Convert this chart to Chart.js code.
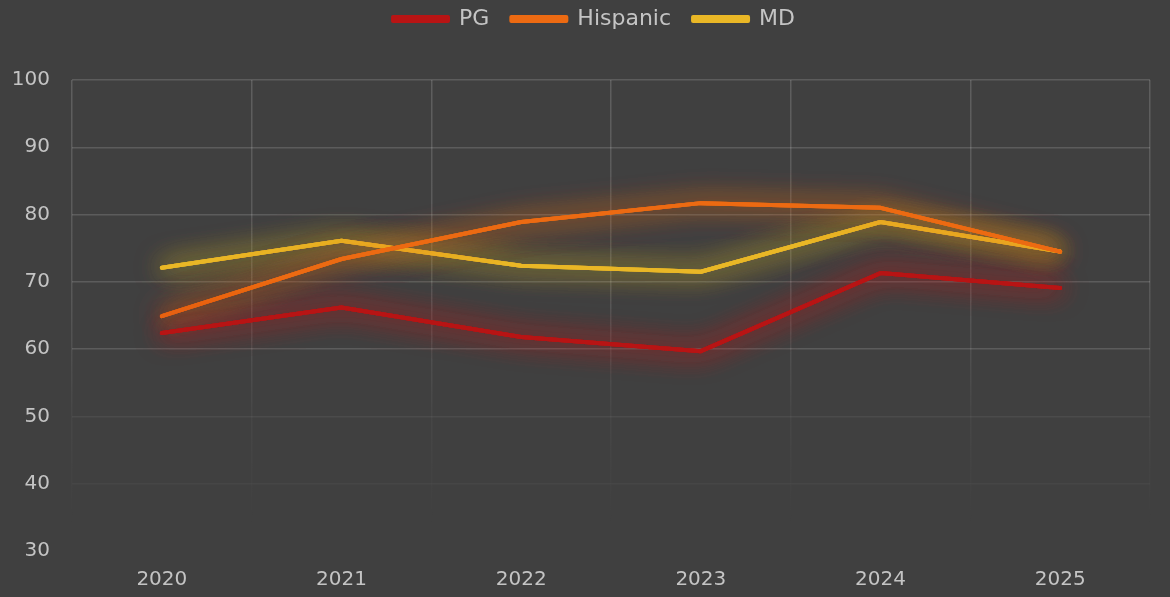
<!DOCTYPE html>
<html>
<head>
<meta charset="utf-8">
<script src="https://cdn.jsdelivr.net/npm/chart.js@4/dist/chart.umd.min.js"></script>
<style>
    html, body { margin: 0; padding: 0; background: #404040; }
    #wrap { width: 1170px; height: 597px; position: relative; }
</style>
</head>
<body>
<div id="wrap"><canvas id="trend"></canvas></div>
<script>
const years = ['2020', '2021', '2022', '2023', '2024', '2025'];
const pgValues = [62.4, 66.2, 61.8, 59.7, 71.3, 69.1];
const hispanicValues = [64.9, 73.4, 78.9, 81.7, 81.0, 74.5];
const mdValues = [72.1, 76.1, 72.4, 71.5, 78.9, 74.5];
const yTicks = [30, 40, 50, 60, 70, 80, 90, 100];

const textColor = '#c4c4c4';
const fontFamily = "'DejaVu Sans', 'Noto Sans', sans-serif";

// soft coloured halo behind each line, a few blurred passes stacked
const glow = {
    id: 'glow',
    beforeDatasetDraw(chart, args) {
        const ds = chart.data.datasets[args.index];
        const ctx = chart.ctx;
        ctx.save();
        ctx.shadowColor = ds.glowColor;
        ctx.shadowBlur = 28;
        ctx.shadowOffsetX = 0;
        ctx.shadowOffsetY = 0;
        args.meta.dataset.draw(ctx, chart.chartArea);
        args.meta.dataset.draw(ctx, chart.chartArea);
    },
    afterDatasetDraw(chart) {
        chart.ctx.restore();
    }
};

// fixed legend band so the plot starts at the right height,
// then nudge the legend row up and a bit right of the plot centre
const legendBand = {
    id: 'legendBand',
    beforeInit(chart) {
        const fit = chart.legend.fit;
        chart.legend.fit = function () {
            fit.call(this);
            this.height = 80;
        };
    },
    afterLayout(chart) {
        chart.legend.top -= 14;
        chart.legend.left += 38;
    }
};

function fadeColor(context) {
    const area = context.chart.chartArea;
    if (!area) return 'rgba(255,255,255,0.14)';
    const g = context.chart.ctx.createLinearGradient(0, area.top, 0, area.bottom);
    g.addColorStop(0, 'rgba(255,255,255,0.16)');
    g.addColorStop(0.45, 'rgba(255,255,255,0.13)');
    g.addColorStop(0.7, 'rgba(255,255,255,0.04)');
    g.addColorStop(0.95, 'rgba(255,255,255,0.0)');
    return g;
}

function hLineColor(context) {
    const v = context.tick ? context.tick.value : 0;
    if (v >= 60) return 'rgba(255,255,255,0.15)';
    if (v === 50) return 'rgba(255,255,255,0.06)';
    if (v === 40) return 'rgba(255,255,255,0.03)';
    return 'rgba(255,255,255,0)';
}

function series(label, data, color, glowColor) {
    return {
        label: label,
        data: data,
        borderColor: color,
        backgroundColor: color,
        glowColor: glowColor,
        borderWidth: 4,
        pointRadius: 0,
        tension: 0,
        borderCapStyle: 'round',
        borderJoinStyle: 'round'
    };
}

new Chart(document.getElementById('trend'), {
    type: 'line',
    data: {
        labels: years,
        datasets: [
            series('PG', pgValues, '#b81414', 'rgba(200,30,30,0.8)'),
            series('Hispanic', hispanicValues, '#ec6a12', 'rgba(236,110,20,0.75)'),
            series('MD', mdValues, '#e9b726', 'rgba(230,190,40,0.65)')
        ]
    },
    options: {
        responsive: true,
        maintainAspectRatio: false,
        animation: false,
        layout: { padding: { left: 0, right: 20, top: 0, bottom: 0 } },
        plugins: {
            legend: {
                position: 'top',
                labels: {
                    color: textColor,
                    boxWidth: 55,
                    boxHeight: 4,
                    padding: 22,
                    font: { family: fontFamily, size: 22 }
                }
            },
            tooltip: { enabled: false }
        },
        scales: {
            x: {
                offset: true,
                grid: { offset: true, color: fadeColor, lineWidth: 1.5, drawTicks: false },
                border: { display: false },
                afterFit(axis) { axis.height = 46; },
                ticks: {
                    color: textColor,
                    padding: 17,
                    font: { family: fontFamily, size: 20 }
                }
            },
            y: {
                min: 30,
                max: 100,
                afterBuildTicks(axis) {
                    axis.ticks = yTicks.map(v => ({ value: v }));
                },
                afterFit(axis) { axis.width = 72; },
                grid: { color: hLineColor, lineWidth: 1.5, drawTicks: false },
                border: { display: false },
                ticks: {
                    color: textColor,
                    padding: 22,
                    font: { family: fontFamily, size: 20 }
                }
            }
        }
    },
    plugins: [glow, legendBand]
});
</script>
</body>
</html>
